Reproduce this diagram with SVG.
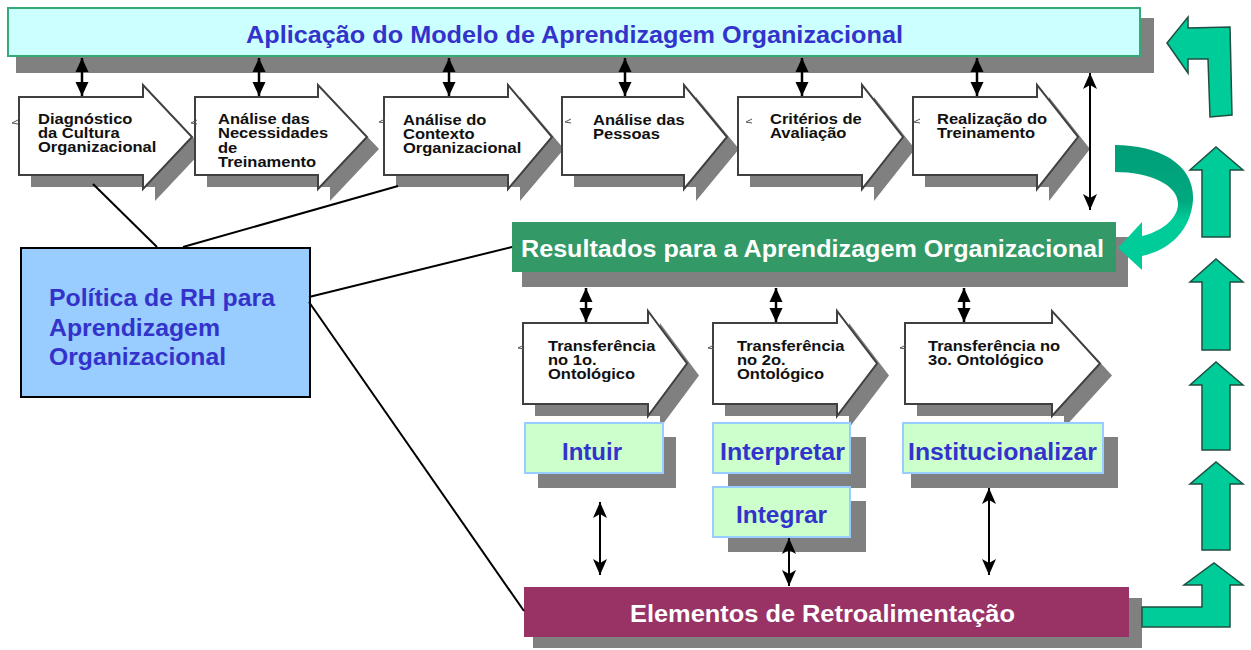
<svg xmlns="http://www.w3.org/2000/svg" width="1251" height="650" viewBox="0 0 1251 650">
<style>
  .sh { fill: #808080; }
  .arr { fill: #ffffff; stroke: #404040; stroke-width: 2; }
  .lbl { font-family: "Liberation Sans", Arial, sans-serif; font-weight: bold; font-size: 14px; fill: #111111; }
  .big { font-family: "Liberation Sans", Arial, sans-serif; font-weight: bold; font-size: 23px; }
  .blue { fill: #3333CC; }
  .white { fill: #ffffff; }
  .lg { fill: #CCFFCC; stroke: #99CCFF; stroke-width: 2; }
  .conn { stroke: #000000; stroke-width: 2; fill: none; }
  .dthick { stroke: #000000; stroke-width: 2.5; fill: none; marker-start: url(#hThick); marker-end: url(#hThick); }
  .dthin { stroke: #000000; stroke-width: 2; fill: none; marker-start: url(#hThin); marker-end: url(#hThin); }
  .teal { fill: #00CC99; stroke: #1f4f40; stroke-width: 1.5; }
  .mark { stroke: #555555; stroke-width: 1; fill: none; }
</style>
<defs>
  <marker id="hThick" viewBox="0 -7 14 14" refX="14" refY="0" markerWidth="14" markerHeight="14" markerUnits="userSpaceOnUse" orient="auto-start-reverse">
    <path d="M0,-6.5 L14,0 L0,6.5 Z" fill="#000"/>
  </marker>
  <marker id="hThin" viewBox="0 -8 16 16" refX="16" refY="0" markerWidth="16" markerHeight="16" markerUnits="userSpaceOnUse" orient="auto-start-reverse">
    <path d="M0,-7 L16,0 L0,7 L4,0 Z" fill="#000"/>
  </marker>
  <linearGradient id="curveGrad" x1="0" y1="0" x2="0" y2="1">
    <stop offset="0" stop-color="#009E78"/>
    <stop offset="0.45" stop-color="#00A880"/>
    <stop offset="0.6" stop-color="#00CC99"/>
    <stop offset="1" stop-color="#00CC99"/>
  </linearGradient>
</defs>
<rect x="0" y="0" width="1251" height="650" fill="#ffffff"/>

<!-- Banner -->
<g id="n-aplicacao">
  <rect class="sh" x="16" y="18" width="1138" height="55"/>
  <rect x="8" y="8" width="1132" height="48" fill="#CCFFFF" stroke="#33AA77" stroke-width="2"/>
  <text class="big blue" x="246" y="43" textLength="657" lengthAdjust="spacingAndGlyphs">Aplicação do Modelo de Aprendizagem Organizacional</text>
</g>

<!-- Row 1 process arrows -->
<g id="n-diagnostico">
  <polygon class="sh" transform="translate(12,12)" points="19,97 143,97 143,85 192,137 143,189 143,175 19,175"/>
  <polygon class="arr" points="19,97 143,97 143,85 192,137 143,189 143,175 19,175"/>
  <text class="lbl" transform="translate(38,124) scale(1.18,1)"><tspan x="0" y="0">Diagnóstico</tspan><tspan x="0" y="14">da Cultura</tspan><tspan x="0" y="28">Organizacional</tspan></text>
</g>
<g id="n-necessidades">
  <polygon class="sh" transform="translate(12,12)" points="195,97 318,97 318,85 367,137 318,189 318,175 195,175"/>
  <polygon class="arr" points="195,97 318,97 318,85 367,137 318,189 318,175 195,175"/>
  <text class="lbl" transform="translate(218,124) scale(1.18,1)"><tspan x="0" y="0">Análise das</tspan><tspan x="0" y="14.3">Necessidades</tspan><tspan x="0" y="28.6">de</tspan><tspan x="0" y="43">Treinamento</tspan></text>
</g>
<g id="n-contexto">
  <polygon class="sh" transform="translate(12,12)" points="384,97 508,97 508,85 552,137 508,189 508,175 384,175"/>
  <polygon class="arr" points="384,97 508,97 508,85 552,137 508,189 508,175 384,175"/>
  <text class="lbl" transform="translate(403,125) scale(1.18,1)"><tspan x="0" y="0">Análise do</tspan><tspan x="0" y="14">Contexto</tspan><tspan x="0" y="28.5">Organizacional</tspan></text>
</g>
<g id="n-pessoas">
  <polygon class="sh" transform="translate(12,12)" points="562,97 684,97 684,85 727,137 684,189 684,175 562,175"/>
  <polygon class="arr" points="562,97 684,97 684,85 727,137 684,189 684,175 562,175"/>
  <text class="lbl" transform="translate(593,125) scale(1.18,1)"><tspan x="0" y="0">Análise das</tspan><tspan x="0" y="14">Pessoas</tspan></text>
</g>
<g id="n-criterios">
  <polygon class="sh" transform="translate(12,12)" points="738,97 862,97 862,85 903,137 862,189 862,175 738,175"/>
  <polygon class="arr" points="738,97 862,97 862,85 903,137 862,189 862,175 738,175"/>
  <text class="lbl" transform="translate(770,124) scale(1.18,1)"><tspan x="0" y="0">Critérios de</tspan><tspan x="0" y="14">Avaliação</tspan></text>
</g>
<g id="n-realizacao">
  <polygon class="sh" transform="translate(12,12)" points="913,97 1037,97 1037,85 1078,137 1037,189 1037,175 913,175"/>
  <polygon class="arr" points="913,97 1037,97 1037,85 1078,137 1037,189 1037,175 913,175"/>
  <text class="lbl" transform="translate(937,124) scale(1.18,1)"><tspan x="0" y="0">Realização do</tspan><tspan x="0" y="14">Treinamento</tspan></text>
</g>

<!-- Política -->
<g id="n-politica">
  <rect x="21" y="248" width="289" height="149" fill="#99CCFF" stroke="#000000" stroke-width="2"/>
  <text class="big blue" x="49" y="306" textLength="226" lengthAdjust="spacingAndGlyphs">Política de RH para</text>
  <text class="big blue" x="49" y="336" textLength="171" lengthAdjust="spacingAndGlyphs">Aprendizagem</text>
  <text class="big blue" x="49" y="365" textLength="177" lengthAdjust="spacingAndGlyphs">Organizacional</text>
</g>

<!-- Resultados -->
<g id="n-resultados">
  <rect class="sh" x="522" y="237" width="606" height="50"/>
  <rect x="512" y="222" width="604" height="50" fill="#339966"/>
  <text class="big white" x="521" y="257" textLength="583" lengthAdjust="spacingAndGlyphs">Resultados para a Aprendizagem Organizacional</text>
</g>

<!-- Row 2 transfer arrows -->
<g id="n-transf1">
  <polygon class="sh" transform="translate(12,12)" points="523,323 648,323 648,311 687,363.5 648,416 648,404 523,404"/>
  <polygon class="arr" points="523,323 648,323 648,311 687,363.5 648,416 648,404 523,404"/>
  <text class="lbl" transform="translate(548,351) scale(1.18,1)"><tspan x="0" y="0">Transferência</tspan><tspan x="0" y="14">no 1o.</tspan><tspan x="0" y="28">Ontológico</tspan></text>
</g>
<g id="n-transf2">
  <polygon class="sh" transform="translate(12,12)" points="713,323 837,323 837,311 877,363.5 837,416 837,404 713,404"/>
  <polygon class="arr" points="713,323 837,323 837,311 877,363.5 837,416 837,404 713,404"/>
  <text class="lbl" transform="translate(737,351) scale(1.18,1)"><tspan x="0" y="0">Transferência</tspan><tspan x="0" y="14">no 2o.</tspan><tspan x="0" y="28">Ontológico</tspan></text>
</g>
<g id="n-transf3">
  <polygon class="sh" transform="translate(12,12)" points="905,323 1052,323 1052,311 1100,363.5 1052,416 1052,404 905,404"/>
  <polygon class="arr" points="905,323 1052,323 1052,311 1100,363.5 1052,416 1052,404 905,404"/>
  <text class="lbl" transform="translate(928,351) scale(1.18,1)"><tspan x="0" y="0">Transferência no</tspan><tspan x="0" y="14">3o. Ontológico</tspan></text>
</g>

<!-- light green boxes -->
<g id="n-intuir">
  <rect class="sh" x="538" y="437" width="138" height="51"/>
  <rect class="lg" x="525" y="423" width="138" height="50"/>
  <text class="big blue" x="562" y="460" textLength="60" lengthAdjust="spacingAndGlyphs">Intuir</text>
</g>
<g id="n-interpretar">
  <rect class="sh" x="728" y="437" width="138" height="51"/>
  <rect class="lg" x="713" y="423" width="137" height="50"/>
  <text class="big blue" x="720" y="460" textLength="125" lengthAdjust="spacingAndGlyphs">Interpretar</text>
</g>
<g id="n-integrar">
  <rect class="sh" x="728" y="501" width="138" height="51"/>
  <rect class="lg" x="713" y="487" width="137" height="50"/>
  <text class="big blue" x="736" y="523" textLength="91" lengthAdjust="spacingAndGlyphs">Integrar</text>
</g>
<g id="n-institucionalizar">
  <rect class="sh" x="911" y="437" width="207" height="51"/>
  <rect class="lg" x="903" y="423" width="200" height="50"/>
  <text class="big blue" x="908" y="460" textLength="189" lengthAdjust="spacingAndGlyphs">Institucionalizar</text>
</g>

<!-- Elementos -->
<g id="n-elementos">
  <rect class="sh" x="533" y="598" width="609" height="50"/>
  <rect x="524" y="587" width="605" height="50" fill="#993366"/>
  <text class="big white" x="630" y="622" textLength="385" lengthAdjust="spacingAndGlyphs">Elementos de Retroalimentação</text>
</g>

<!-- small marks -->
<g id="marks">
  <path class="mark" d="M12,123 l6,-3 M12,123 l6,1"/>
  <path class="mark" d="M191,123 l6,-3 M191,123 l6,1"/>
  <path class="mark" d="M379,122 l6,-3 M379,122 l6,1"/>
  <path class="mark" d="M565,122 l6,-3 M565,122 l6,1"/>
  <path class="mark" d="M746,122 l6,-3 M746,122 l6,1"/>
  <path class="mark" d="M914,122 l6,-3 M914,122 l6,1"/>
  <path class="mark" d="M518,348 l6,-3 M518,348 l6,1"/>
  <path class="mark" d="M708,348 l6,-3 M708,348 l6,1"/>
  <path class="mark" d="M900,348 l6,-3 M900,348 l6,1"/>
</g>

<!-- Connectors -->
<g id="connectors">
  <line class="conn" x1="157" y1="247" x2="93" y2="184"/>
  <line class="conn" x1="183" y1="247" x2="398" y2="186"/>
  <line class="conn" x1="309" y1="297" x2="512" y2="247"/>
  <line class="conn" x1="309" y1="302" x2="524" y2="611"/>

  <line class="dthick" x1="82" y1="58" x2="82" y2="96"/>
  <line class="dthick" x1="259" y1="58" x2="259" y2="96"/>
  <line class="dthick" x1="449" y1="58" x2="449" y2="96"/>
  <line class="dthick" x1="625" y1="58" x2="625" y2="96"/>
  <line class="dthick" x1="802" y1="58" x2="802" y2="96"/>
  <line class="dthick" x1="977" y1="58" x2="977" y2="96"/>

  <line class="dthick" x1="586" y1="288" x2="586" y2="322"/>
  <line class="dthick" x1="776" y1="288" x2="776" y2="322"/>
  <line class="dthick" x1="964" y1="288" x2="964" y2="322"/>

  <line class="dthin" x1="1090" y1="73" x2="1090" y2="210"/>
  <line class="dthin" x1="600" y1="502" x2="600" y2="575"/>
  <line class="dthin" x1="789" y1="538" x2="789" y2="586"/>
  <line class="dthin" x1="989" y1="488" x2="989" y2="575"/>
</g>

<!-- Feedback arrows -->
<g id="feedback-arrows">
  <path d="M1115,145 C1160,145 1195,165 1193,200 C1191,230 1170,250 1142,256 L1142,270 L1118,248 L1142,222 L1142,236 C1160,232 1177,220 1178,205 C1179,185 1150,172 1115,172 Z" fill="url(#curveGrad)"/>
  <polygon class="teal" points="1167,43 1188,17 1188,28 1230,27 1232,115 1210,117 1208,59 1188,59 1188,73"/>
  <polygon class="teal" points="1202,237 1202,170 1190,170 1216,147 1243,170 1230,170 1230,237"/>
  <polygon class="teal" points="1202,350 1202,282 1190,282 1216,259 1243,282 1230,282 1230,350"/>
  <polygon class="teal" points="1202,450 1202,385 1190,385 1216,362 1243,385 1230,385 1230,450"/>
  <polygon class="teal" points="1202,550 1202,484 1190,484 1216,462 1243,484 1230,484 1230,550"/>
  <polygon class="teal" points="1142,607 1202,607 1202,585 1184,585 1214,563 1243,585 1230,585 1230,627 1142,627"/>
</g>
</svg>
